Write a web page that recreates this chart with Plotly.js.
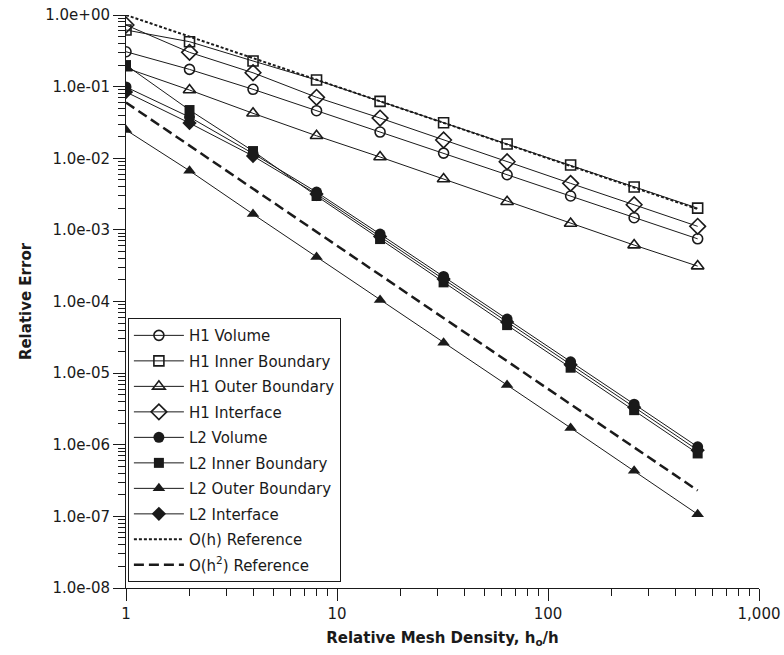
<!DOCTYPE html>
<html>
<head>
<meta charset="utf-8">
<script src="https://cdn.plot.ly/plotly-3.0.1.min.js"></script>
<style>html,body{margin:0;padding:0;background:#fff;}#chart{width:784px;height:655px;}</style>
</head>
<body>
<div id="chart"></div>
<script>
// Relative mesh density h0/h
const densities = [1, 2, 4, 8, 16, 32, 64, 128, 256, 512];

// H1 errors
const h1Volume    = [0.307, 0.174, 0.0917, 0.0461, 0.0232, 0.0118, 0.00588, 0.00297, 0.00148, 0.00075];
const h1Inner     = [0.617, 0.424, 0.228, 0.1236, 0.0623, 0.0313, 0.0158, 0.00804, 0.00396, 0.00201];
const h1Outer     = [0.182, 0.0896, 0.0424, 0.0206, 0.0104, 0.00512, 0.00247, 0.00123, 0.000613, 0.000312];
const h1Interface = [0.725, 0.301, 0.156, 0.0709, 0.0364, 0.0180, 0.00893, 0.00446, 0.00224, 0.00112];

// L2 errors
const l2Volume    = [0.0988, 0.0376, 0.01163, 0.00337, 0.000873, 0.000224, 5.68e-5, 1.44e-5, 3.69e-6, 9.35e-7];
const l2Inner     = [0.200, 0.0471, 0.0126, 0.00297, 0.000744, 0.000185, 4.68e-5, 1.19e-5, 3.04e-6, 7.56e-7];
const l2Outer     = [0.0248, 0.00669, 0.00166, 0.000417, 0.000105, 2.65e-5, 6.8e-6, 1.72e-6, 4.32e-7, 1.07e-7];
const l2Interface = [0.0841, 0.0310, 0.01074, 0.00316, 0.000806, 0.000206, 5.16e-5, 1.31e-5, 3.35e-6, 8.41e-7];

// Reference slopes
const refX  = [1, 512];
const refO1 = [1.0, 0.00195];
const refO2 = [0.06, 2.3e-7];

// Tick labels
const xTickVals = [1, 10, 100, 1000];
const xTickText = ['1', '10', '100', '1,000'];
const yTickVals = [1, 1e-1, 1e-2, 1e-3, 1e-4, 1e-5, 1e-6, 1e-7, 1e-8];
const yTickText = ['1.0e+00', '1.0e-01', '1.0e-02', '1.0e-03', '1.0e-04', '1.0e-05', '1.0e-06', '1.0e-07', '1.0e-08'];

const seriesNames = ['H1 Volume', 'H1 Inner Boundary', 'H1 Outer Boundary', 'H1 Interface',
                     'L2 Volume', 'L2 Inner Boundary', 'L2 Outer Boundary', 'L2 Interface'];
const seriesData = [h1Volume, h1Inner, h1Outer, h1Interface, l2Volume, l2Inner, l2Outer, l2Interface];
const seriesSymbols = ['circle-open', 'square-open', 'triangle-up-open', 'diamond-open',
                       'circle', 'square', 'triangle-up', 'diamond'];
const seriesSizes = [10, 10, 11, 12, 11, 10, 11, 11];

const INK = '#1a1a1a';
const traces = [];
seriesNames.forEach((name, i) => {
  const open = seriesSymbols[i].indexOf('open') >= 0;
  traces.push({
    x: densities, y: seriesData[i], name: name, legendgroup: 'g' + i,
    type: 'scatter', mode: 'lines+markers',
    line: {color: INK, width: 1},
    marker: {symbol: seriesSymbols[i], size: seriesSizes[i], color: INK,
             line: {color: INK, width: open ? 1.6 : 0}}
  });
});
traces.push({x: refX, y: refO1, name: 'O(h) Reference', legendgroup: 'g8', type: 'scatter', mode: 'lines',
             line: {color: INK, width: 2, dash: '3px,2px'}});
traces.push({x: refX, y: refO2, name: 'O(h<sup>2</sup>) Reference', legendgroup: 'g9', type: 'scatter', mode: 'lines',
             line: {color: INK, width: 2.5, dash: '10px,5px'}});

function minorVals(lo, hi) {
  const out = [];
  for (let e = lo; e < hi; e++) for (let k = 2; k <= 9; k++) out.push(k * Math.pow(10, e));
  return out;
}

const tickFont = {family: 'DejaVu Sans', size: 15, color: INK};
const titleFont = {family: 'DejaVu Sans', size: 15, color: INK, weight: 'bold'};

const layout = {
  width: 784, height: 655,
  margin: {l: 126, r: 25, t: 15, b: 67},
  paper_bgcolor: '#fff', plot_bgcolor: '#fff',
  showlegend: true,
  legend: {x: 0.003, y: 0.471, xanchor: 'left', yanchor: 'top',
           bgcolor: '#fff', bordercolor: INK, borderwidth: 1,
           font: {family: 'DejaVu Sans', size: 15, color: INK},
           tracegroupgap: 3, itemwidth: 50, entrywidth: 158},
  xaxis: {type: 'log', range: [0, 3], showgrid: false, zeroline: false,
          showline: true, linecolor: INK, linewidth: 1,
          ticks: 'outside', ticklen: 12, tickcolor: INK, tickwidth: 1,
          tickmode: 'array', tickvals: xTickVals, ticktext: xTickText, tickfont: tickFont,
          minor: {ticks: 'outside', ticklen: 7, tickcolor: INK, tickwidth: 1, tickmode: 'array', tickvals: minorVals(0, 3), showgrid: false},
          title: {text: 'Relative Mesh Density, h<sub>o</sub>/h', font: titleFont, standoff: 10}},
  yaxis: {type: 'log', range: [-8, 0], showgrid: false, zeroline: false,
          showline: true, linecolor: INK, linewidth: 1,
          ticks: 'outside', ticklen: 12, tickcolor: INK, tickwidth: 1,
          tickmode: 'array', tickvals: yTickVals, ticktext: yTickText, tickfont: tickFont,
          minor: {ticks: 'outside', ticklen: 7, tickcolor: INK, tickwidth: 1, tickmode: 'array', tickvals: minorVals(-8, 0), showgrid: false},
          title: {text: 'Relative Error', font: titleFont, standoff: 10}}
};

Plotly.newPlot('chart', traces, layout, {displayModeBar: false, staticPlot: true});
</script>
</body>
</html>
